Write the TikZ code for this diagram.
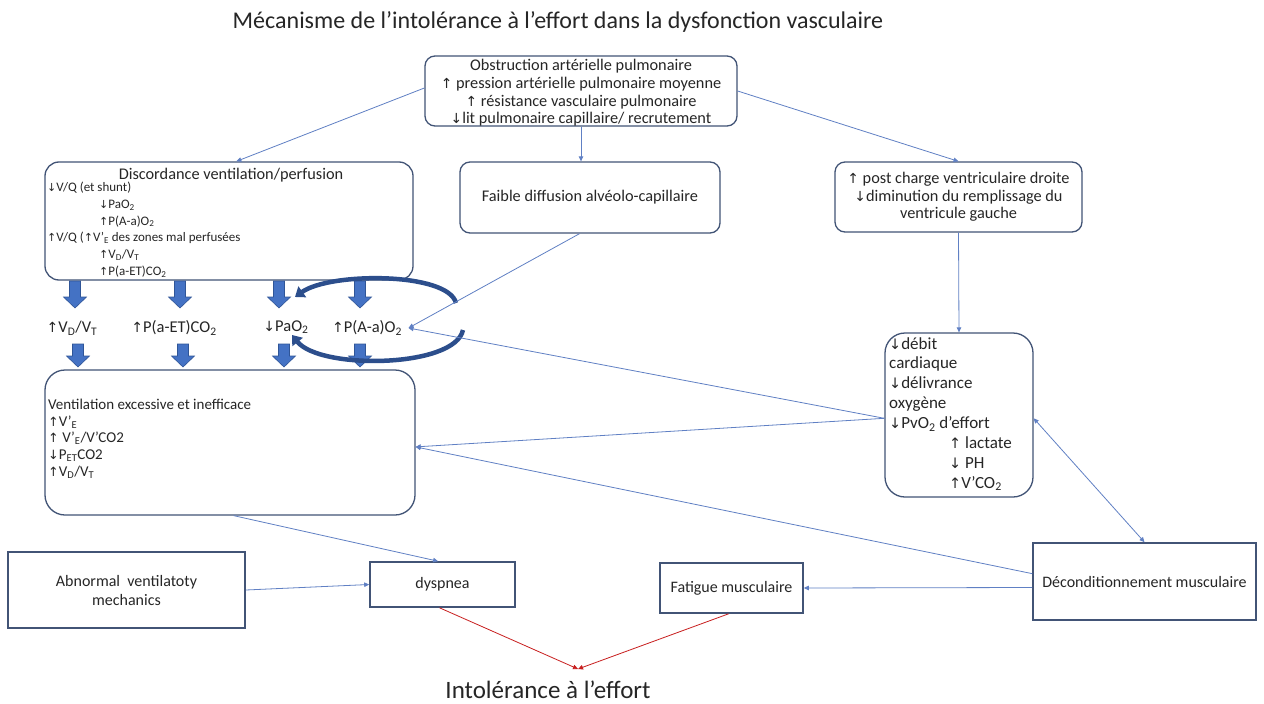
\documentclass[tikz,border=0pt]{standalone}
\usepackage{fontspec}
\usepackage{graphicx}
\setmainfont{Carlito}
\newfontfamily\symf{DejaVu Sans}
\usetikzlibrary{arrows.meta,calc}
\newcommand\UP{{\symf\scalebox{0.85}{↑}}}
\newcommand\DN{{\symf\scalebox{0.85}{↓}}}
\newcommand\sub[1]{\textsubscript{#1}}
\definecolor{boxc}{RGB}{66,84,118}
\definecolor{linec}{RGB}{96,128,196}
\definecolor{arrf}{RGB}{68,114,196}
\definecolor{arrd}{RGB}{47,85,151}
\definecolor{arcc}{RGB}{44,78,140}
\definecolor{txt}{RGB}{38,38,38}
\definecolor{redc}{RGB}{200,30,30}
\begin{document}
\begin{tikzpicture}[x=1pt,y=-1pt,
  every node/.style={text=txt},
  box/.style={draw=boxc, line width=1.3pt, rounded corners=10pt, inner sep=0pt},
  sbox/.style={draw=boxc, line width=1.6pt, inner sep=0pt},
  conn/.style={draw=linec, line width=0.8pt, -{Triangle[length=5pt,width=4.5pt]}},
  dconn/.style={draw=linec, line width=0.8pt, {Triangle[length=5pt,width=4.5pt]}-{Triangle[length=5pt,width=4.5pt]}},
  rconn/.style={draw=redc, line width=0.8pt, -{Triangle[length=5pt,width=4.5pt]}},
  arcarrow/.style={draw=arcc, line width=4.5pt, -{Triangle[length=9pt,width=13pt]}},
  pics/barr/.style={code={\filldraw[fill=arrf, draw=arrd, line width=0.6pt]
      (-5.5,0) -- (5.5,0) -- (5.5,#1-11) -- (11.5,#1-11) -- (0,#1) -- (-11.5,#1-11) -- (-5.5,#1-11) -- cycle;}},
  f16/.style={font=\fontsize{16.3}{17.6}\selectfont},
  f13/.style={font=\fontsize{13}{16.7}\selectfont},
  f15/.style={font=\fontsize{15}{16.6}\selectfont},
  fb/.style={font=\fontsize{16}{19}\selectfont},
]
\useasboundingbox (0,0) rectangle (1264,704);
\fill[white] (0,0) rectangle (1264,704);

% title
\node[font=\fontsize{24}{28}\selectfont] (title) at (558,22) {Mécanisme de l’intolérance à l’effort dans la dysfonction vasculaire};

% top box
\node[box, minimum width=312pt, minimum height=70pt] (top) at (581,91) {};
\node[f16, align=center, inner sep=0pt] (toptext) at (581,93)
  {Obstruction artérielle pulmonaire\\ \UP{} pression artérielle pulmonaire moyenne\\ \UP{} résistance vasculaire pulmonaire\\ \DN{}lit pulmonaire capillaire/ recrutement};

% discordance box
\node[box, rounded corners=14pt, minimum width=368pt, minimum height=118pt] (disc) at (229,221) {};
\node[f16] (disctitle) at (231,175) {Discordance ventilation/perfusion};
\node[f13, anchor=north west, align=left, inner sep=0pt] (disctext) at (47,182)
  {\DN{}V/Q (et shunt)\\
   \hspace*{52pt}\DN{}PaO\sub{2}\\
   \hspace*{52pt}\UP{}P(A-a)O\sub{2}\\
   \UP{}V/Q (\UP{}V’\sub{E} des zones mal perfusées\\
   \hspace*{52pt}\UP{}V\sub{D}/V\sub{T}\\
   \hspace*{52pt}\UP{}P(a-ET)CO\sub{2}};

% faible diffusion
\node[box, f16, minimum width=260pt, minimum height=71pt] (faible) at (590,197.5) {Faible diffusion alvéolo-capillaire};

% post charge
\node[box, f16, align=center, minimum width=247pt, minimum height=70pt] (post) at (958.5,197)
  {\UP{} post charge ventriculaire droite\\ \DN{}diminution du remplissage du\\ ventricule gauche};

% cardiac box
\node[box, rounded corners=20pt, minimum width=148pt, minimum height=164pt] (card) at (959,415) {};
\node[font=\fontsize{17}{19.9}\selectfont, anchor=north west, align=left, inner sep=0pt] (cardtext) at (889,337)
  {\DN{}débit\\ cardiaque\\ \DN{}délivrance\\ oxygène\\ \DN{}PvO\sub{2} d’effort\\
   \hspace*{60pt}\UP{} lactate\\ \hspace*{60pt}\DN{} PH\\ \hspace*{60pt}\UP{}V’CO\sub{2}};

% block arrows
\pic at (75,281) {barr=27};
\pic at (180,281) {barr=27};
\pic at (279,281) {barr=27};
\pic at (360,281) {barr=27};
\pic at (78,344) {barr=23};
\pic at (183,344) {barr=23};
\pic at (284,344) {barr=23};
\pic at (360,344) {barr=23};

% row labels
\node[font=\fontsize{16.5}{19}\selectfont] (l1) at (72,328) {\UP{}V\sub{D}/V\sub{T}};
\node[font=\fontsize{16.5}{19}\selectfont] (l2) at (174,328) {\UP{}P(a-ET)CO\sub{2}};
\node[font=\fontsize{16.5}{19}\selectfont] (l3) at (286,327) {\DN{}PaO\sub{2}};
\node[font=\fontsize{16.5}{19}\selectfont] (l4) at (367,328) {\UP{}P(A-a)O\sub{2}};

% circular arcs
\draw[arcarrow] (456,303) .. controls (448,272) and (330,272) .. (295,297);
\draw[arcarrow] (463,330) .. controls (455,368) and (320,370) .. (292,335);

% ventilation box
\node[box, rounded corners=20pt, minimum width=370pt, minimum height=145pt] (vent) at (230,442.5) {};
\node[f15, anchor=north west, align=left, inner sep=0pt] (venttext) at (48,399)
  {Ventilation excessive et inefficace\\ \UP{}V’\sub{E}\\ \UP{} V’\sub{E}/V’CO2\\ \DN{}P\sub{ET}CO2\\ \UP{}V\sub{D}/V\sub{T}};

% bottom boxes
\node[sbox, fb, align=center, minimum width=237pt, minimum height=76pt] (abn) at (126.5,590) {Abnormal\ \ ventilatoty\\ mechanics};
\node[sbox, fb, minimum width=145pt, minimum height=45pt] (dysp) at (442.5,584.5) {dyspnea};
\node[sbox, fb, minimum width=143pt, minimum height=50pt] (fat) at (731.5,588) {Fatigue musculaire};
\node[sbox, fb, minimum width=223pt, minimum height=77pt] (decond) at (1144.5,581.5) {Déconditionnement musculaire};

\node[font=\fontsize{25}{28}\selectfont] (intol) at (548,690) {Intolérance à l’effort};
\coordinate (meet) at (578,669);

% thin connectors
\draw[conn] ([yshift=3pt]top.west) -- ($(disc.north west)!0.52!(disc.north east)$);
\draw[conn] (top.south) -- (top.south |- faible.north);
\draw[conn] (top.east) -- (post.north);
\draw[conn] (post.south) -- (card.north);
\draw[conn] ($(faible.south west)!0.46!(faible.south east)$) -- ([xshift=3pt]l4.east);
\draw[conn] ($(card.north west)!0.52!(card.south west)$) -- ([xshift=3pt]l4.east);
\draw[conn] ($(card.north west)!0.52!(card.south west)$) -- ($(vent.north east)!0.53!(vent.south east)$);
\draw[conn] ($(decond.north west)!0.4!(decond.south west)$) -- ($(vent.north east)!0.53!(vent.south east)$);
\draw[dconn] ($(card.north east)!0.52!(card.south east)$) -- (decond.north);
\draw[conn] (decond.west) ++(0,6) -- (fat.east);
\draw[conn] ($(vent.south west)!0.51!(vent.south east)$) -- ($(dysp.north west)!0.47!(dysp.north east)$);
\draw[conn] (abn.east) -- (dysp.west);
\draw[rconn] ($(dysp.south west)!0.48!(dysp.south east)$) -- (meet);
\draw[rconn] ($(fat.south west)!0.48!(fat.south east)$) -- (meet);
\end{tikzpicture}
\end{document}
